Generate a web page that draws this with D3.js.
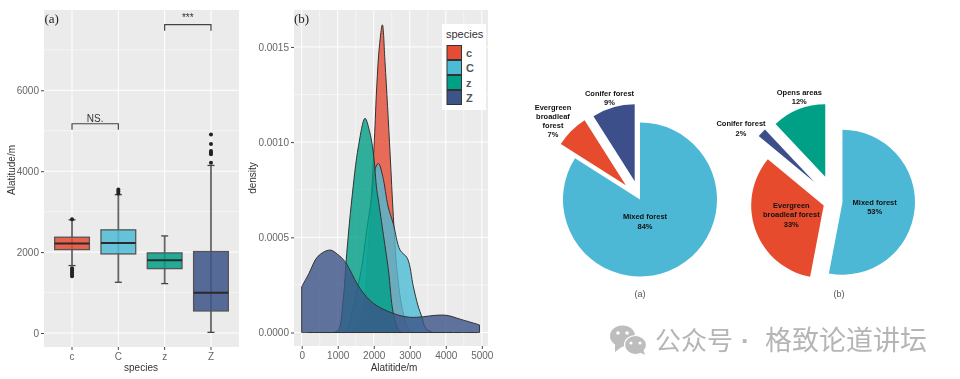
<!DOCTYPE html>
<html>
<head>
<meta charset="utf-8">
<script src="https://cdnjs.cloudflare.com/ajax/libs/d3/7.8.5/d3.min.js"></script>
<style>
  html, body { margin: 0; padding: 0; background: #fff; }
  svg { display: block; filter: blur(0.7px); }
  text { font-family: "Liberation Sans", Arial, sans-serif; }
</style>
</head>
<body>
<svg id="chart" width="960" height="379"></svg>
<script>
// data
var species = ["c", "C", "z", "Z"];
var speciesColors = ["#E64B35", "#4DBBD5", "#00A087", "#3C5488"];

// low whisker, q1, median, q3, high whisker
var boxC1 = [1667, 2062, 2210, 2368, 2797];
var boxC2 = [1254, 1955, 2228, 2550, 3420];
var boxZ1 = [1221, 1592, 1798, 1980, 2400];
var boxZ2 = [16, 545, 998, 2013, 4142];
var outC1 = [1400, 1450, 1500, 1550, 1600, 2810];
var outC2 = [3450, 3500, 3550];
var outZ1 = [];
var outZ2 = [4210, 4420, 4460, 4500, 4670, 4910];

var densC1 = [[1300, 0], [1500, 0.00002], [1700, 0.00012], [1850, 0.00045], [2017, 0.00101], [2083, 0.00129], [2155, 0.0015], [2240, 0.001616], [2314, 0.001416], [2453, 0.000943], [2544, 0.00061], [2650, 0.00032], [2800, 0.00012], [3000, 0.00001], [3150, 0]];
var densC2 = [[1150, 0], [1250, 0.00001], [1434, 0.000135], [1667, 0.000346], [1806, 0.00054], [1944, 0.000713], [2040, 0.00086], [2130, 0.000888], [2250, 0.00082], [2400, 0.00066], [2544, 0.00057], [2730, 0.000433], [2933, 0.00039], [3100, 0.00024], [3230, 0.00014], [3333, 0.000083], [3450, 0.00002], [3650, 0]];
var densZ1 = [[850, 0], [1010, 0.00001], [1150, 0.00017], [1250, 0.000416], [1389, 0.000696], [1573, 0.000976], [1758, 0.001125], [1880, 0.00106], [1989, 0.000943], [2083, 0.00075], [2128, 0.000696], [2270, 0.00051], [2406, 0.00033], [2544, 0.0001], [2700, 0.00001], [2815, 0]];
var densZ2 = [[0, 0.00024], [200, 0.00031], [450, 0.0004], [786, 0.000433], [1000, 0.00041], [1203, 0.000372], [1619, 0.000232], [1989, 0.000153], [2544, 0.0001], [3000, 0.00008], [3378, 0.000083], [3700, 0.00009], [4028, 0.00009], [4400, 0.00007], [4935, 0.00004]];

var pieALabels = ["Mixed forest", "Evergreen broadleaf forest", "Conifer forest"];
var pieAValues = [84, 7, 9];
var pieBLabels = ["Mixed forest", "Evergreen broadleaf forest", "Conifer forest", "Opens areas"];
var pieBValues = [53, 33, 2, 12];

var xTicksB = [0, 1000, 2000, 3000, 4000, 5000];
var yTicksA = [0, 2000, 4000, 6000];
var yTicksB = [0, 0.0005, 0.001, 0.0015];

var svg = d3.select("#chart");
var boxes = [boxC1, boxC2, boxZ1, boxZ2];
var outliers = [outC1, outC2, outZ1, outZ2];
var densities = [densC1, densC2, densZ1, densZ2];

function panel(x0, x1, y0, y1) {
  svg.append("rect").attr("x", x0).attr("y", y0).attr("width", x1 - x0).attr("height", y1 - y0).attr("fill", "#EBEBEB");
}
function gridH(sc, vals, x0, x1, w) {
  svg.append("g").selectAll("line").data(vals).join("line")
    .attr("x1", x0).attr("x2", x1).attr("y1", sc).attr("y2", sc)
    .attr("stroke", "#fff").attr("stroke-width", w);
}
function gridV(sc, vals, y0, y1, w) {
  svg.append("g").selectAll("line").data(vals).join("line")
    .attr("y1", y0).attr("y2", y1).attr("x1", sc).attr("x2", sc)
    .attr("stroke", "#fff").attr("stroke-width", w);
}
function styleAxis(g) {
  g.select(".domain").remove();
  g.selectAll("line").attr("stroke", "#444");
  g.selectAll("text").attr("fill", "#666").style("font-family", "Liberation Sans").style("font-size", "10px");
}

// ---- (a) boxplot
var ax0 = 44, ax1 = 239, ay0 = 10, ay1 = 347;
var xa = d3.scaleBand().domain(species).range([ax0, ax1]).paddingInner(0.25).paddingOuter(0.23);
var ya = d3.scaleLinear().domain([-346, 7985]).range([ay1, ay0]);
var xaMid = function (d) { return xa(d) + xa.bandwidth() / 2; };

panel(ax0, ax1, ay0, ay1);
gridH(ya, [1000, 3000, 5000, 7000], ax0, ax1, 0.5);
gridH(ya, yTicksA, ax0, ax1, 1);
gridV(xaMid, species, ay0, ay1, 1);

svg.append("g").attr("transform", "translate(" + ax0 + ",0)")
  .call(d3.axisLeft(ya).tickValues(yTicksA).tickFormat(d3.format("d")).tickSize(3).tickPadding(2)).call(styleAxis);
svg.append("g").attr("transform", "translate(0," + ay1 + ")")
  .call(d3.axisBottom(xa).tickSize(3).tickPadding(3)).call(styleAxis);

species.forEach(function (s, i) {
  var b = boxes[i], cx = xaMid(s), g = svg.append("g");
  g.append("line").attr("x1", cx).attr("x2", cx).attr("y1", ya(b[0])).attr("y2", ya(b[4])).attr("stroke", "#666").attr("stroke-width", 1.8);
  [b[0], b[4]].forEach(function (v) {
    g.append("line").attr("x1", cx - 3.5).attr("x2", cx + 3.5).attr("y1", ya(v)).attr("y2", ya(v)).attr("stroke", "#444").attr("stroke-width", 1.3);
  });
  g.selectAll("circle").data(outliers[i]).join("circle")
    .attr("cx", cx).attr("cy", ya).attr("r", 2).attr("fill", "#222");
  g.append("rect").attr("x", xa(s)).attr("width", xa.bandwidth())
    .attr("y", ya(b[3])).attr("height", ya(b[1]) - ya(b[3]))
    .attr("fill", speciesColors[i]).attr("fill-opacity", 0.85)
    .attr("stroke", "#555").attr("stroke-width", 1.3);
  g.append("line").attr("x1", xa(s)).attr("x2", xa(s) + xa.bandwidth()).attr("y1", ya(b[2])).attr("y2", ya(b[2]))
    .attr("stroke", "#2a2a2a").attr("stroke-width", 2);
});

function bracket(a, b, top, drop, label, ly) {
  var p = d3.path();
  p.moveTo(xaMid(a), ya(top - drop));
  p.lineTo(xaMid(a), ya(top));
  p.lineTo(xaMid(b), ya(top));
  p.lineTo(xaMid(b), ya(top - drop));
  svg.append("path").attr("d", p.toString()).attr("fill", "none").attr("stroke", "#444").attr("stroke-width", 1.2);
  svg.append("text").attr("x", (xaMid(a) + xaMid(b)) / 2).attr("y", ly).attr("text-anchor", "middle")
    .attr("dominant-baseline", "central").attr("font-size", 10).attr("fill", "#333").text(label);
}
bracket("c", "C", 5173, 150, "NS.", 118);
bracket("z", "Z", 7624, 150, "***", 17);

svg.append("text").attr("x", 44.5).attr("y", 23).attr("font-size", 13).style("font-family", "Liberation Serif").attr("fill", "#222").text("(a)");
svg.append("text").attr("x", 141).attr("y", 371).attr("text-anchor", "middle").attr("font-size", 10).attr("fill", "#333").text("species");
svg.append("text").attr("transform", "translate(14.5,170) rotate(-90)").attr("text-anchor", "middle").attr("font-size", 10).attr("fill", "#333").text("Alatitude/m");

// ---- (b) density
var bx0 = 294, bx1 = 488, by0 = 10, by1 = 346;
var xb = d3.scaleLinear().domain([-214, 5172]).range([bx0, bx1]);
var yb = d3.scaleLinear().domain([-0.0000709, 0.001694]).range([by1, by0]);

panel(bx0, bx1, by0, by1);
gridH(yb, [0.00025, 0.00075, 0.00125], bx0, bx1, 0.5);
gridV(xb, [500, 1500, 2500, 3500, 4500], by0, by1, 0.5);
gridH(yb, yTicksB, bx0, bx1, 1);
gridV(xb, xTicksB, by0, by1, 1);

svg.append("g").attr("transform", "translate(" + bx0 + ",0)")
  .call(d3.axisLeft(yb).tickValues(yTicksB).tickFormat(d3.format(".4f")).tickSize(3).tickPadding(2)).call(styleAxis);
svg.append("g").attr("transform", "translate(0," + by1 + ")")
  .call(d3.axisBottom(xb).tickValues(xTicksB).tickFormat(d3.format("d")).tickSize(3).tickPadding(3)).call(styleAxis);

var area = d3.area()
  .x(function (d) { return xb(d[0]); })
  .y0(yb(0))
  .y1(function (d) { return yb(d[1]); })
  .curve(d3.curveCatmullRom.alpha(0.5));

species.forEach(function (s, i) {
  svg.append("path").datum(densities[i]).attr("d", area)
    .attr("fill", speciesColors[i]).attr("fill-opacity", 0.8)
    .attr("stroke", "#333").attr("stroke-width", 1);
});

svg.append("text").attr("x", 294).attr("y", 23).attr("font-size", 13).style("font-family", "Liberation Serif").attr("fill", "#222").text("(b)");
svg.append("text").attr("x", 394).attr("y", 371).attr("text-anchor", "middle").attr("font-size", 10).attr("fill", "#333").text("Alatitide/m");
svg.append("text").attr("transform", "translate(256,178) rotate(-90)").attr("text-anchor", "middle").attr("font-size", 10).attr("fill", "#333").text("density");

// legend
svg.append("rect").attr("x", 442).attr("y", 24).attr("width", 44).attr("height", 86).attr("fill", "#fff");
svg.append("text").attr("x", 446).attr("y", 38).attr("font-size", 11).attr("fill", "#333").text("species");
var legY = d3.scaleBand().domain(species).range([45, 105]);
species.forEach(function (s, i) {
  svg.append("rect").attr("x", 447).attr("y", legY(s) + 0.5).attr("width", 14.5).attr("height", legY.bandwidth() - 1)
    .attr("fill", speciesColors[i]).attr("stroke", "#333").attr("stroke-width", 1);
  svg.append("text").attr("x", 466).attr("y", legY(s) + legY.bandwidth() / 2).attr("dominant-baseline", "central")
    .attr("font-size", 11).attr("font-weight", "bold").attr("fill", "#555").text(s);
});

// ---- pies
var pieGen = d3.pie().sort(null);

function drawPie(vals, colors, cx, cy, r, explode) {
  var arc = d3.arc().innerRadius(0).outerRadius(r);
  svg.append("g").selectAll("path").data(pieGen(vals)).join("path")
    .attr("d", arc)
    .attr("fill", function (d, i) { return colors[i]; })
    .attr("transform", function (d, i) {
      var mid = (d.startAngle + d.endAngle) / 2;
      return "translate(" + (cx + Math.sin(mid) * explode[i]) + "," + (cy - Math.cos(mid) * explode[i]) + ")";
    });
}
function pieLabel(lines, x, y0, dy) {
  lines.forEach(function (t, i) {
    svg.append("text").attr("x", x).attr("y", y0 + i * dy).attr("text-anchor", "middle")
      .attr("dominant-baseline", "central").attr("font-size", 7.5).attr("font-weight", "bold").attr("fill", "#111").text(t);
  });
}
var lightBlue = "#4DB8D6", red = "#E64B2D", navy = "#3C4F8A", green = "#00A087";

drawPie(pieAValues, [lightBlue, red, navy], 640, 199.5, 77, [0, 20, 19]);
drawPie(pieBValues, [lightBlue, red, navy, green], 835, 201.5, 72.5, [7.5, 12, 28, 26.5]);

pieLabel(["Mixed forest", pieAValues[0] + "%"], 645, 216.7, 9.3);
pieLabel(["Evergreen", "broadleaf", "forest", pieAValues[1] + "%"], 553, 107, 9);
pieLabel(["Conifer forest", pieAValues[2] + "%"], 609.5, 93.5, 8.8);
pieLabel(["Mixed forest", pieBValues[0] + "%"], 874.7, 202.3, 9);
pieLabel(["Evergreen", "broadleaf forest", pieBValues[1] + "%"], 791.3, 205.7, 9.2);
pieLabel(["Conifer forest", pieBValues[2] + "%"], 741, 123.3, 10);
pieLabel(["Opens areas", pieBValues[3] + "%"], 799.3, 92.3, 9.4);

svg.append("text").attr("x", 640).attr("y", 294).attr("text-anchor", "middle").attr("dominant-baseline", "central").attr("font-size", 9).attr("fill", "#555").text("(a)");
svg.append("text").attr("x", 839).attr("y", 294).attr("text-anchor", "middle").attr("dominant-baseline", "central").attr("font-size", 9).attr("fill", "#555").text("(b)");

// ---- watermark
var wm = svg.append("g").attr("fill", "#bdbdbd");
wm.append("ellipse").attr("cx", 622.5).attr("cy", 336).attr("rx", 12.5).attr("ry", 10.5);
wm.append("path").attr("d", "M615 344 L615 352 L623 346 Z");
wm.append("ellipse").attr("cx", 635.5).attr("cy", 345).attr("rx", 11).attr("ry", 9.5).attr("stroke", "#fff").attr("stroke-width", 1.2);
wm.append("path").attr("d", "M639 352 L645 355 L643 349 Z");
[[618, 333], [627, 333]].forEach(function (p) {
  wm.append("circle").attr("cx", p[0]).attr("cy", p[1]).attr("r", 1.8).attr("fill", "#fff");
});
[[631, 343], [640, 343]].forEach(function (p) {
  wm.append("circle").attr("cx", p[0]).attr("cy", p[1]).attr("r", 1.6).attr("fill", "#fff");
});
var wmText = svg.append("text").attr("y", 350).attr("font-size", 26)
  .style("font-family", "Noto Sans CJK SC").attr("fill", "#b5b5b5");
wmText.append("tspan").attr("x", 655).text("公众号");
wmText.append("tspan").attr("x", 741).style("font-family", "Liberation Sans").attr("font-weight", "bold").text("·");
wmText.append("tspan").attr("x", 765).attr("font-size", 27).text("格致论道讲坛");
</script>
</body>
</html>
